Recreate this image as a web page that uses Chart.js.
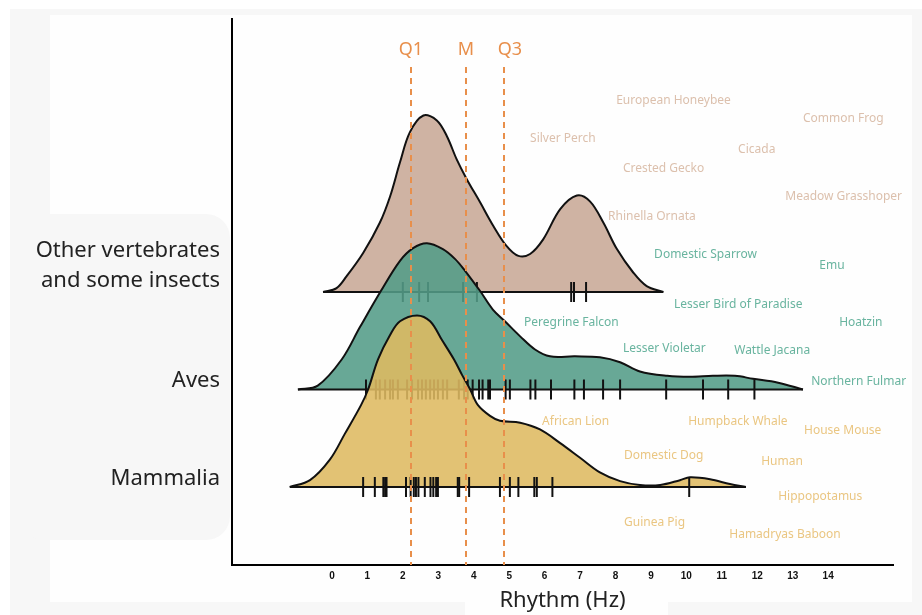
<!DOCTYPE html>
<html>
<head>
<meta charset="utf-8">
<script src="https://cdn.jsdelivr.net/npm/chart.js@4.4.1/dist/chart.umd.min.js"></script>
<style>
  html, body { margin: 0; padding: 0; background: #fff; }
  canvas { display: block; }
</style>
</head>
<body>
<canvas id="ridges" width="922" height="615"></canvas>
<script>
// ---- Groups (bottom to top) ----
const groupNames = ['Mammalia', 'Aves', ['Other vertebrates', 'and some insects']];

// ---- X axis ticks (Hz) ----
const xTickValues = [0, 1, 2, 3, 4, 5, 6, 7, 8, 9, 10, 11, 12, 13, 14];

// ---- Density outlines: frequency (Hz) and ridge height ----
const otherCurveX = [-0.25, 0.13, 0.41, 0.88, 1.35, 1.64, 1.92, 2.20, 2.58, 2.96, 3.24, 3.52, 3.80, 4.18, 4.55, 4.93, 5.26, 5.59, 5.96, 6.44, 6.91, 7.28, 7.66, 8.04, 8.50, 8.88, 9.35];
const otherCurveH = [0, 0.04, 0.16, 0.40, 0.71, 0.98, 1.33, 1.64, 1.81, 1.76, 1.60, 1.36, 1.16, 0.92, 0.68, 0.47, 0.37, 0.39, 0.54, 0.85, 0.99, 0.93, 0.71, 0.44, 0.20, 0.06, 0];

const avesCurveX = [-0.96, -0.40, 0.28, 0.79, 1.38, 1.92, 2.29, 2.68, 3.13, 3.47, 3.75, 4.18, 4.54, 4.88, 5.31, 5.73, 6.15, 6.86, 7.56, 8.13, 8.69, 9.46, 10.10, 10.75, 11.37, 11.88, 12.59, 13.29];
const avesCurveH = [0, 0.04, 0.31, 0.64, 1.01, 1.32, 1.45, 1.50, 1.44, 1.34, 1.22, 1.01, 0.82, 0.70, 0.545, 0.41, 0.34, 0.34, 0.33, 0.28, 0.185, 0.14, 0.13, 0.14, 0.14, 0.11, 0.07, 0];

const mamCurveX = [-1.19, -0.62, -0.06, 0.37, 0.82, 1.02, 1.30, 1.64, 1.92, 2.40, 2.77, 3.10, 3.44, 3.67, 3.90, 4.12, 4.46, 4.74, 5.31, 5.87, 6.44, 7.00, 7.56, 8.13, 8.69, 9.26, 9.82, 10.10, 10.67, 11.23, 11.68];
const mamCurveH = [0, 0.07, 0.28, 0.55, 0.84, 1.00, 1.31, 1.56, 1.70, 1.76, 1.70, 1.51, 1.31, 1.15, 1.00, 0.84, 0.73, 0.68, 0.66, 0.59, 0.45, 0.30, 0.15, 0.06, 0.02, 0.02, 0.07, 0.10, 0.08, 0.03, 0];

// ---- Individual species rhythms (rug marks, Hz) ----
const otherRug = [2.00, 2.46, 2.71, 3.70, 4.09, 6.75, 6.83, 7.17];
const avesRug = [0.96, 1.24, 1.35, 1.50, 1.64, 1.72, 1.86, 2.12, 2.26, 2.43, 2.54, 2.65, 2.77, 2.88, 2.99, 3.13, 3.25, 3.58, 3.73, 3.83, 3.97, 4.15, 4.25, 4.41, 4.46, 4.90, 5.02, 5.60, 5.74, 6.18, 6.84, 7.11, 7.65, 8.13, 9.43, 10.47, 11.18, 11.92];
const mamRug = [0.88, 1.21, 1.45, 1.50, 1.54, 2.09, 2.22, 2.31, 2.37, 2.44, 2.62, 2.78, 2.86, 2.94, 2.99, 3.55, 3.59, 3.87, 4.74, 5.02, 5.26, 5.71, 5.78, 6.22, 10.08];

// ---- Overall quartiles (Hz) ----
const quartileNames = ['Q1', 'M', 'Q3'];
const quartileValues = [2.23, 3.78, 4.85];

// ---- Species name annotations (left edge in Hz, centre in ridge units) ----
const otherNames = ['European Honeybee', 'Common Frog', 'Silver Perch', 'Cicada', 'Crested Gecko', 'Meadow Grasshoper', 'Rhinella Ornata'];
const otherNameX = [8.02, 13.29, 5.59, 11.46, 8.21, 12.79, 7.79];
const otherNameY = [3.96, 3.78, 3.57, 3.46, 3.27, 2.98, 2.77];

const avesNames = ['Domestic Sparrow', 'Emu', 'Lesser Bird of Paradise', 'Hoatzin', 'Peregrine Falcon', 'Lesser Violetar', 'Wattle Jacana', 'Northern Fulmar'];
const avesNameX = [9.09, 13.75, 9.65, 14.31, 5.42, 8.21, 11.35, 13.52];
const avesNameY = [2.38, 2.27, 1.87, 1.69, 1.69, 1.42, 1.40, 1.08];

const mamNames = ['African Lion', 'Humpback Whale', 'House Mouse', 'Domestic Dog', 'Human', 'Hippopotamus', 'Guinea Pig', 'Hamadryas Baboon'];
const mamNameX = [5.93, 10.05, 13.32, 8.24, 12.11, 12.59, 8.24, 11.21];
const mamNameY = [0.67, 0.67, 0.58, 0.32, 0.26, -0.10, -0.37, -0.49];

// ---- Styling ----
const FONT = '"Noto Sans", "Open Sans", sans-serif';
const fills = ['rgba(222,185,97,0.88)', 'rgba(83,156,136,0.88)', 'rgba(200,169,150,0.88)'];
const nameColors = ['#eac682', '#69b49f', '#dcc0ad'];
const quartileColor = '#e88f4b';
const labelLift = [0.08, 0.09, 0.27];   // group label raise above its ridge baseline

function curvePoints(xs, hs, base) { return xs.map((x, i) => ({ x: x, y: base + hs[i] })); }
function rugPoints(vals, base) { return vals.map(x => ({ x: x, y: base })); }

const curves = [[mamCurveX, mamCurveH], [avesCurveX, avesCurveH], [otherCurveX, otherCurveH]];
const rugs = [mamRug, avesRug, otherRug];

// Build datasets: for each ridge a filled outline, its baseline, and its rug.
// Lower "order" draws on top, so Mammalia ends up in front.
const datasets = [];
curves.forEach(([xs, hs], g) => {
  const base = g;
  datasets.push({
    label: 'density-' + g,
    data: curvePoints(xs, hs, base),
    borderColor: '#111',
    borderWidth: 2,
    backgroundColor: fills[g],
    fill: { value: base },
    tension: 0.35,
    pointRadius: 0,
    order: g * 3 + 2
  });
  datasets.push({
    label: 'baseline-' + g,
    data: [{ x: xs[0], y: base }, { x: xs[xs.length - 1], y: base }],
    borderColor: '#111',
    borderWidth: 2,
    fill: false,
    pointRadius: 0,
    order: g * 3 + 1
  });
  datasets.push({
    label: 'rug-' + g,
    data: rugPoints(rugs[g], base),
    showLine: false,
    pointStyle: 'line',
    pointRotation: 90,
    pointRadius: 10,
    pointBorderWidth: 2,
    pointBorderColor: '#111',
    pointBackgroundColor: '#111',
    order: g * 3
  });
});

// Page backdrop panels
const backdrop = {
  id: 'backdrop',
  beforeDraw(chart) {
    const ctx = chart.ctx;
    ctx.save();
    ctx.fillStyle = '#ffffff';
    ctx.fillRect(0, 0, chart.width, chart.height);
    ctx.fillStyle = '#f7f7f7';
    ctx.fillRect(10, 9, chart.width - 10, chart.height - 9);
    ctx.fillStyle = '#fefefe';
    ctx.fillRect(50, 15, 862, 587);
    ctx.fillStyle = '#f7f7f7';
    ctx.beginPath();
    ctx.roundRect(20, 214, 210, 326, 24);
    ctx.fill();
    ctx.fillStyle = '#fefefe';
    ctx.beginPath();
    ctx.roundRect(465, 583, 203, 60, 16);
    ctx.fill();
    ctx.restore();
  }
};

// Dashed quartile markers with their names
const quartiles = {
  id: 'quartiles',
  afterDatasetsDraw(chart) {
    const { ctx, chartArea, scales: { x } } = chart;
    ctx.save();
    ctx.strokeStyle = quartileColor;
    ctx.lineWidth = 2;
    ctx.setLineDash([6, 5]);
    quartileValues.forEach(v => {
      const px = Math.round(x.getPixelForValue(v));
      ctx.beginPath();
      ctx.moveTo(px, chartArea.top + 48);
      ctx.lineTo(px, chartArea.bottom);
      ctx.stroke();
    });
    ctx.setLineDash([]);
    ctx.fillStyle = quartileColor;
    ctx.font = '18px ' + FONT;
    ctx.textAlign = 'center';
    ctx.textBaseline = 'middle';
    const nudge = [0, 0, 6];
    quartileValues.forEach((v, i) => {
      ctx.fillText(quartileNames[i], x.getPixelForValue(v) + nudge[i], chartArea.top + 31);
    });
    ctx.restore();
  }
};

// Species names next to the ridges
const speciesNames = {
  id: 'speciesNames',
  afterDraw(chart) {
    const { ctx, scales: { x, y } } = chart;
    const sets = [[mamNames, mamNameX, mamNameY], [avesNames, avesNameX, avesNameY], [otherNames, otherNameX, otherNameY]];
    ctx.save();
    ctx.font = '12px ' + FONT;
    ctx.textAlign = 'left';
    ctx.textBaseline = 'middle';
    sets.forEach(([names, xs, ys], g) => {
      ctx.fillStyle = nameColors[g];
      names.forEach((n, i) => ctx.fillText(n, x.getPixelForValue(xs[i]), y.getPixelForValue(ys[i])));
    });
    ctx.restore();
  }
};

new Chart(document.getElementById('ridges'), {
  type: 'line',
  data: { datasets: datasets },
  plugins: [backdrop, quartiles, speciesNames],
  options: {
    responsive: false,
    animation: false,
    devicePixelRatio: 1,
    layout: { padding: { top: 19, right: 29, left: 0, bottom: 0 } },
    plugins: { legend: { display: false }, tooltip: { enabled: false } },
    scales: {
      x: {
        type: 'linear',
        min: -2.82,
        max: 15.83,
        afterBuildTicks: s => { s.ticks = xTickValues.map(v => ({ value: v })); },
        afterFit: s => { s.height = 50; s.paddingLeft = 0; s.paddingRight = 0; },
        grid: { display: false, drawTicks: false },
        border: { display: true, color: '#000', width: 2 },
        ticks: {
          autoSkip: false, maxRotation: 0, padding: 5, color: '#111',
          font: { family: '"Liberation Sans", Arial, sans-serif', size: 10, weight: 'bold' },
          callback: v => String(v)
        },
        title: {
          display: true, text: 'Rhythm (Hz)', color: '#222',
          font: { family: FONT, size: 22 },
          padding: { top: 0, bottom: 1 }
        }
      },
      y: {
        type: 'linear',
        min: -0.80,
        max: 4.80,
        afterBuildTicks: s => { s.ticks = groupNames.map((g, i) => ({ value: i + labelLift[i] })); },
        afterFit: s => { s.width = 232; s.paddingTop = 0; s.paddingBottom = 0; },
        grid: { display: false, drawTicks: false },
        border: { display: true, color: '#000', width: 2 },
        ticks: {
          autoSkip: false, padding: 12, color: '#222',
          font: { family: FONT, size: 22, lineHeight: 1.36 },
          callback: (v, i) => groupNames[i]
        }
      }
    }
  }
});
</script>
</body>
</html>
